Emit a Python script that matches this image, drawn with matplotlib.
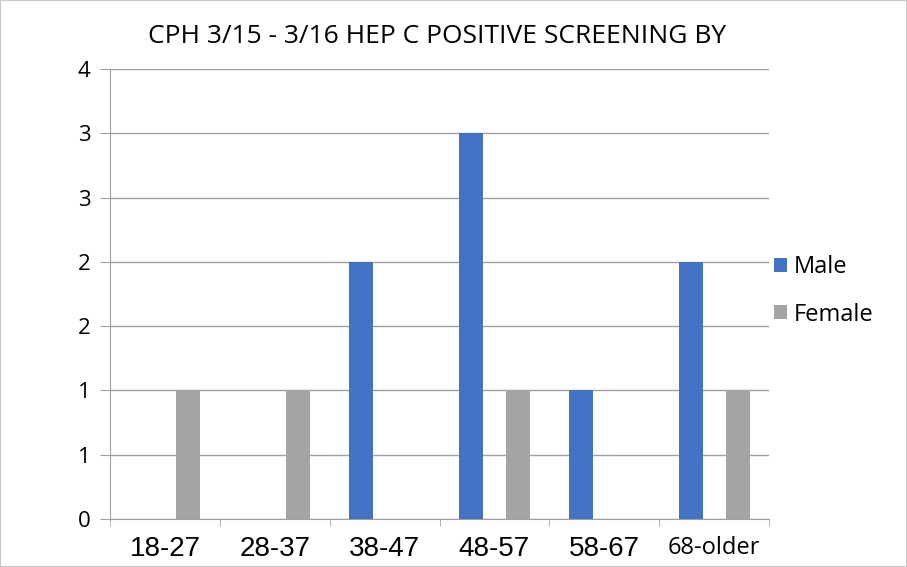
import matplotlib.pyplot as plt
from matplotlib.patches import Rectangle
import numpy as np

age_groups = ["18-27", "28-37", "38-47", "48-57", "58-67", "68-older"]
male = [0, 0, 2, 3, 1, 2]
female = [1, 1, 0, 1, 0, 1]
ytick_vals = [0, 0.5, 1, 1.5, 2, 2.5, 3, 3.5]
ytick_labels = ["0", "1", "1", "2", "2", "3", "3", "4"]

fig = plt.figure(figsize=(9.07, 5.67), dpi=100)
ax = fig.add_axes([110 / 907, 1 - 519 / 567, 659 / 907, 450 / 567])

x = np.arange(len(age_groups))
w = 0.218
ax.bar(x - 0.214, male, w, color="#4472C4", label="Male", zorder=3)
ax.bar(x + 0.214, female, w, color="#A5A5A5", label="Female", zorder=3)

ax.set_xlim(-0.5, len(age_groups) - 0.5)
ax.set_ylim(0, 3.5)
ax.set_yticks(ytick_vals)
ax.set_yticklabels(ytick_labels, fontsize=16, family="Open Sans")
ax.yaxis.grid(True, color="#A0A0A0", linewidth=1, zorder=0)
ax.tick_params(axis="y", length=7, color="#A0A0A0", pad=7)

ax.set_xticks(x)
ax.set_xticklabels(age_groups, fontsize=20, family="Liberation Sans")
ax.get_xticklabels()[-1].set_family("Open Sans")
ax.get_xticklabels()[-1].set_fontsize(17)
ax.tick_params(axis="x", length=0, pad=12)
ax.set_xticks(np.arange(-0.5, len(age_groups)), minor=True)
ax.tick_params(axis="x", which="minor", length=5, color="#A0A0A0")

for side in ["top", "right"]:
    ax.spines[side].set_visible(False)
for side in ["left", "bottom"]:
    ax.spines[side].set_color("#A0A0A0")

fig.text(0.4815, 0.936, "CPH 3/15 - 3/16 HEP C POSITIVE SCREENING BY",
         ha="center", va="center", fontsize=19, family="Open Sans")

ax.legend(loc="center left", bbox_to_anchor=(1.0, 0.507), frameon=False,
          prop={"family": "Open Sans", "size": 17}, handlelength=0.55,
          handleheight=0.55, handletextpad=0.3, labelspacing=1.0,
          borderaxespad=0, borderpad=0.2)

fig.patches.append(Rectangle((0, 0), 1, 1, transform=fig.transFigure,
                             fill=False, edgecolor="#C8C8C8", linewidth=1.5))

fig.savefig("out.png", dpi=100)
